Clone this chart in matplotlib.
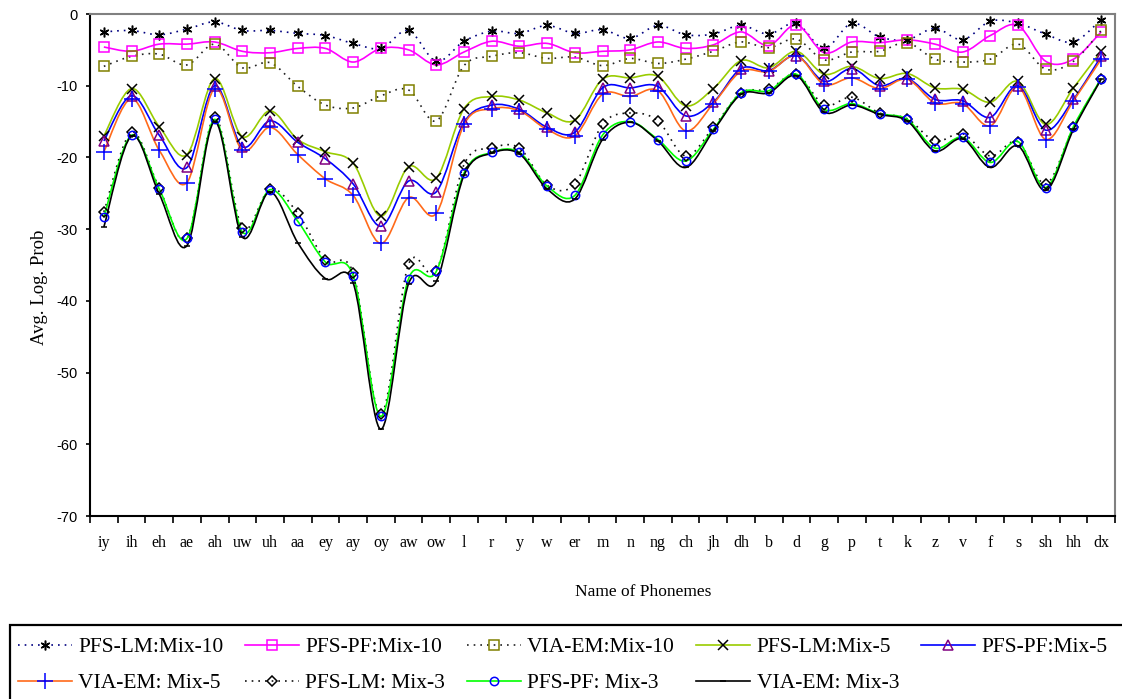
import numpy as np
import matplotlib
matplotlib.use("Agg")
import matplotlib.pyplot as plt
from matplotlib.path import Path
from matplotlib.patches import PathPatch, Rectangle
from matplotlib.lines import Line2D

plt.rcParams["axes.unicode_minus"] = False

# phoneme labels along the x axis
phonemes = ["iy", "ih", "eh", "ae", "ah", "uw", "uh", "aa", "ey", "ay", "oy", "aw", "ow",
            "l", "r", "y", "w", "er", "m", "n", "ng", "ch", "jh", "dh", "b", "d", "g",
            "p", "t", "k", "z", "v", "f", "s", "sh", "hh", "dx"]

# average log probability per phoneme
pfs_lm_10 = [-2.5, -2.3, -2.9, -2.1, -1.1, -2.3, -2.3, -2.7, -3.0, -4.1, -4.8, -2.3, -6.6,
             -3.8, -2.4, -2.7, -1.6, -2.7, -2.2, -3.4, -1.6, -2.9, -2.8, -1.6, -2.8, -1.3, -4.8,
             -1.3, -3.2, -3.6, -2.0, -3.6, -1.0, -1.3, -2.8, -3.9, -0.8]
pfs_pf_10 = [-4.6, -5.2, -4.2, -4.2, -3.9, -5.2, -5.4, -4.8, -4.8, -6.7, -4.8, -5.0, -7.1,
             -5.3, -3.8, -4.5, -4.1, -5.4, -5.2, -5.0, -3.9, -4.8, -4.3, -2.5, -4.4, -1.5, -5.4,
             -3.9, -4.0, -3.6, -4.2, -5.3, -3.0, -1.6, -6.6, -6.3, -2.5]
via_em_10 = [-7.3, -5.9, -5.6, -7.1, -4.2, -7.5, -6.8, -10.1, -12.7, -13.1, -11.4, -10.6, -14.9,
             -7.2, -5.9, -5.4, -6.2, -6.0, -7.2, -6.2, -6.9, -6.3, -5.2, -3.9, -4.7, -3.5, -6.4,
             -5.3, -5.2, -4.0, -6.3, -6.7, -6.3, -4.2, -7.7, -6.6, -2.3]
pfs_lm_5 = [-17.0, -10.4, -15.7, -19.6, -9.0, -17.1, -13.5, -17.5, -19.2, -20.8, -28.2, -21.3, -22.9,
            -13.2, -11.5, -12.0, -13.8, -14.8, -9.1, -8.9, -8.7, -12.8, -10.4, -6.5, -7.5, -5.2, -8.4,
            -7.3, -9.0, -8.3, -10.3, -10.5, -12.3, -9.4, -15.4, -10.3, -5.2]
pfs_pf_5 = [-17.7, -11.4, -16.9, -21.4, -10.0, -18.5, -14.9, -17.9, -20.2, -23.7, -29.6, -23.3, -24.8,
            -15.1, -12.7, -13.3, -15.8, -16.5, -10.3, -10.3, -10.1, -14.2, -12.3, -7.6, -7.9, -5.8, -9.4,
            -7.6, -10.0, -9.0, -11.9, -12.1, -14.4, -10.0, -16.2, -11.9, -5.9]
via_em_5 = [-19.2, -11.8, -19.0, -23.5, -10.4, -19.0, -15.8, -19.6, -23.0, -25.3, -32.0, -25.6, -27.8,
            -15.4, -13.2, -13.5, -16.1, -17.0, -11.2, -11.5, -10.7, -16.3, -12.5, -8.0, -8.0, -5.8, -9.8,
            -8.9, -10.4, -9.1, -12.4, -12.5, -15.6, -10.2, -17.5, -12.1, -6.3]
pfs_lm_3 = [-27.6, -16.5, -24.3, -31.3, -14.4, -29.8, -24.4, -27.8, -34.3, -36.1, -55.8, -34.9, -35.8,
            -21.0, -18.7, -18.7, -23.9, -23.7, -15.4, -13.8, -14.9, -19.8, -15.8, -11.0, -10.5, -8.4, -12.7,
            -11.6, -13.8, -14.6, -17.7, -16.7, -19.8, -17.8, -23.7, -15.8, -9.0]
pfs_pf_3 = [-28.3, -16.9, -24.4, -31.3, -14.7, -30.4, -24.5, -28.9, -34.6, -36.5, -56.1, -36.9, -35.9,
            -22.2, -19.3, -19.3, -24.0, -25.3, -16.9, -15.0, -17.5, -20.5, -16.1, -11.0, -10.7, -8.4, -13.3,
            -12.5, -13.9, -14.7, -18.7, -17.2, -20.7, -17.8, -24.2, -15.7, -9.0]
via_em_3 = [-29.7, -17.0, -25.1, -32.3, -15.0, -31.1, -24.8, -31.9, -36.9, -37.5, -57.9, -37.6, -37.3,
            -22.5, -19.4, -19.5, -24.4, -25.8, -17.5, -15.1, -17.7, -21.4, -16.3, -11.2, -11.0, -8.6, -13.7,
            -12.7, -14.0, -14.9, -19.1, -17.4, -21.4, -18.4, -24.6, -16.1, -9.1]

dots = (0, (1, 3))
ast = (6, 2, 0)
# label, values, line colour, line style, marker, marker size, marker edge colour
series = [
    ("PFS-LM:Mix-10", pfs_lm_10, "#000080", dots, ast, 7, "black"),
    ("PFS-PF:Mix-10", pfs_pf_10, "#ff00ff", "-", "s", 7, "#ff00ff"),
    ("VIA-EM:Mix-10", via_em_10, "#222222", dots, "s", 7, "#808000"),
    ("PFS-LM:Mix-5", pfs_lm_5, "#99cc00", "-", "x", 7, "black"),
    ("PFS-PF:Mix-5", pfs_pf_5, "#0000ff", "-", "^", 7, "#800080"),
    ("VIA-EM: Mix-5", via_em_5, "#ff6a1a", "-", "+", 12, "#0000ff"),
    ("PFS-LM: Mix-3", pfs_lm_3, "#111111", dots, "D", 5, "black"),
    ("PFS-PF: Mix-3", pfs_pf_3, "#00ff00", "-", "o", 6, "#0000ff"),
    ("VIA-EM: Mix-3", via_em_3, "black", "-", "_", 5, "black"),
]


def smooth_path(xs, ys):
    # cubic bezier through every point, tangents from the neighbouring points
    pts = np.column_stack([xs, ys]).astype(float)
    n = len(pts)
    verts = [pts[0]]
    codes = [Path.MOVETO]
    for i in range(n - 1):
        p0 = pts[i - 1] if i > 0 else pts[i]
        p1 = pts[i]
        p2 = pts[i + 1]
        p3 = pts[i + 2] if i + 2 < n else pts[i + 1]
        verts += [p1 + (p2 - p0) / 6, p2 - (p3 - p1) / 6, p2]
        codes += [Path.CURVE4] * 3
    return Path(verts, codes)


serif = "Liberation Serif"
sans = "Liberation Sans"

fig = plt.figure(figsize=(11.22, 6.99), dpi=100)
ax = fig.add_axes([90 / 1122, 1 - 516 / 699, 1025 / 1122, 502 / 699])

x = np.arange(len(phonemes))
handles = []
for label, vals, col, ls, mk, ms, mec in series:
    ax.add_patch(PathPatch(smooth_path(x, vals), fill=False, edgecolor=col,
                           linestyle=ls, linewidth=1.2, zorder=2))
    ax.plot(x, vals, linestyle="none", marker=mk, markersize=ms, markerfacecolor="none",
            markeredgecolor=mec, markeredgewidth=1.1, zorder=3)
    handles.append(Line2D([], [], color=col, linestyle=ls, linewidth=1.2, marker=mk,
                          markersize=ms, markerfacecolor="none", markeredgecolor=mec,
                          markeredgewidth=1.1, label=label))

ax.set_xlim(-0.5, len(phonemes) - 0.5)
ax.set_ylim(-70, 0)
ax.set_yticks(np.arange(-70, 1, 10))
ax.set_xticks(np.arange(-0.5, len(phonemes), 1))
ax.set_xticklabels([])
ax.set_xticks(x, minor=True)
ax.set_xticklabels(phonemes, minor=True, fontfamily=serif, fontsize=11.5)
ax.tick_params(axis="x", which="major", direction="out", length=5, width=1.2)
ax.tick_params(axis="x", which="minor", length=0, pad=14)
ax.tick_params(axis="y", direction="out", length=3, width=1.2, pad=6, labelsize=10.5)
for t in ax.get_yticklabels():
    t.set_fontfamily(sans)

for side in ["left", "bottom"]:
    ax.spines[side].set_color("black")
    ax.spines[side].set_linewidth(1.5)
for side in ["top", "right"]:
    ax.spines[side].set_color("#808080")
    ax.spines[side].set_linewidth(1.5)

fig.text(39 / 1122, 1 - 287 / 699, "Avg. Log. Prob", rotation=90, ha="center", va="center",
         fontfamily=serif, fontsize=13.5)
fig.text(643 / 1122, 1 - 592 / 699, "Name of Phonemes", ha="center", va="center",
         fontfamily=serif, fontsize=12.5)

# legend box runs off the bottom/right of the figure
fig.patches.append(Rectangle((10 / 1122, -0.1), 1.2, 0.1 + 1 - 625 / 699, transform=fig.transFigure,
                             fill=False, edgecolor="black", linewidth=1.6))

# ncol fills column-wise, so interleave the two rows
order = [0, 5, 1, 6, 2, 7, 3, 8, 4]
fig.legend([handles[i] for i in order], [handles[i].get_label() for i in order],
           ncol=5, loc="upper left", bbox_to_anchor=(18 / 1122, 1 - 637 / 699),
           frameon=False, borderaxespad=0, borderpad=0, numpoints=1,
           handlelength=2.5, handletextpad=0.3, columnspacing=1.0, labelspacing=0.75,
           prop={"family": serif, "size": 15.5})

fig.savefig("out.png", dpi=100)
